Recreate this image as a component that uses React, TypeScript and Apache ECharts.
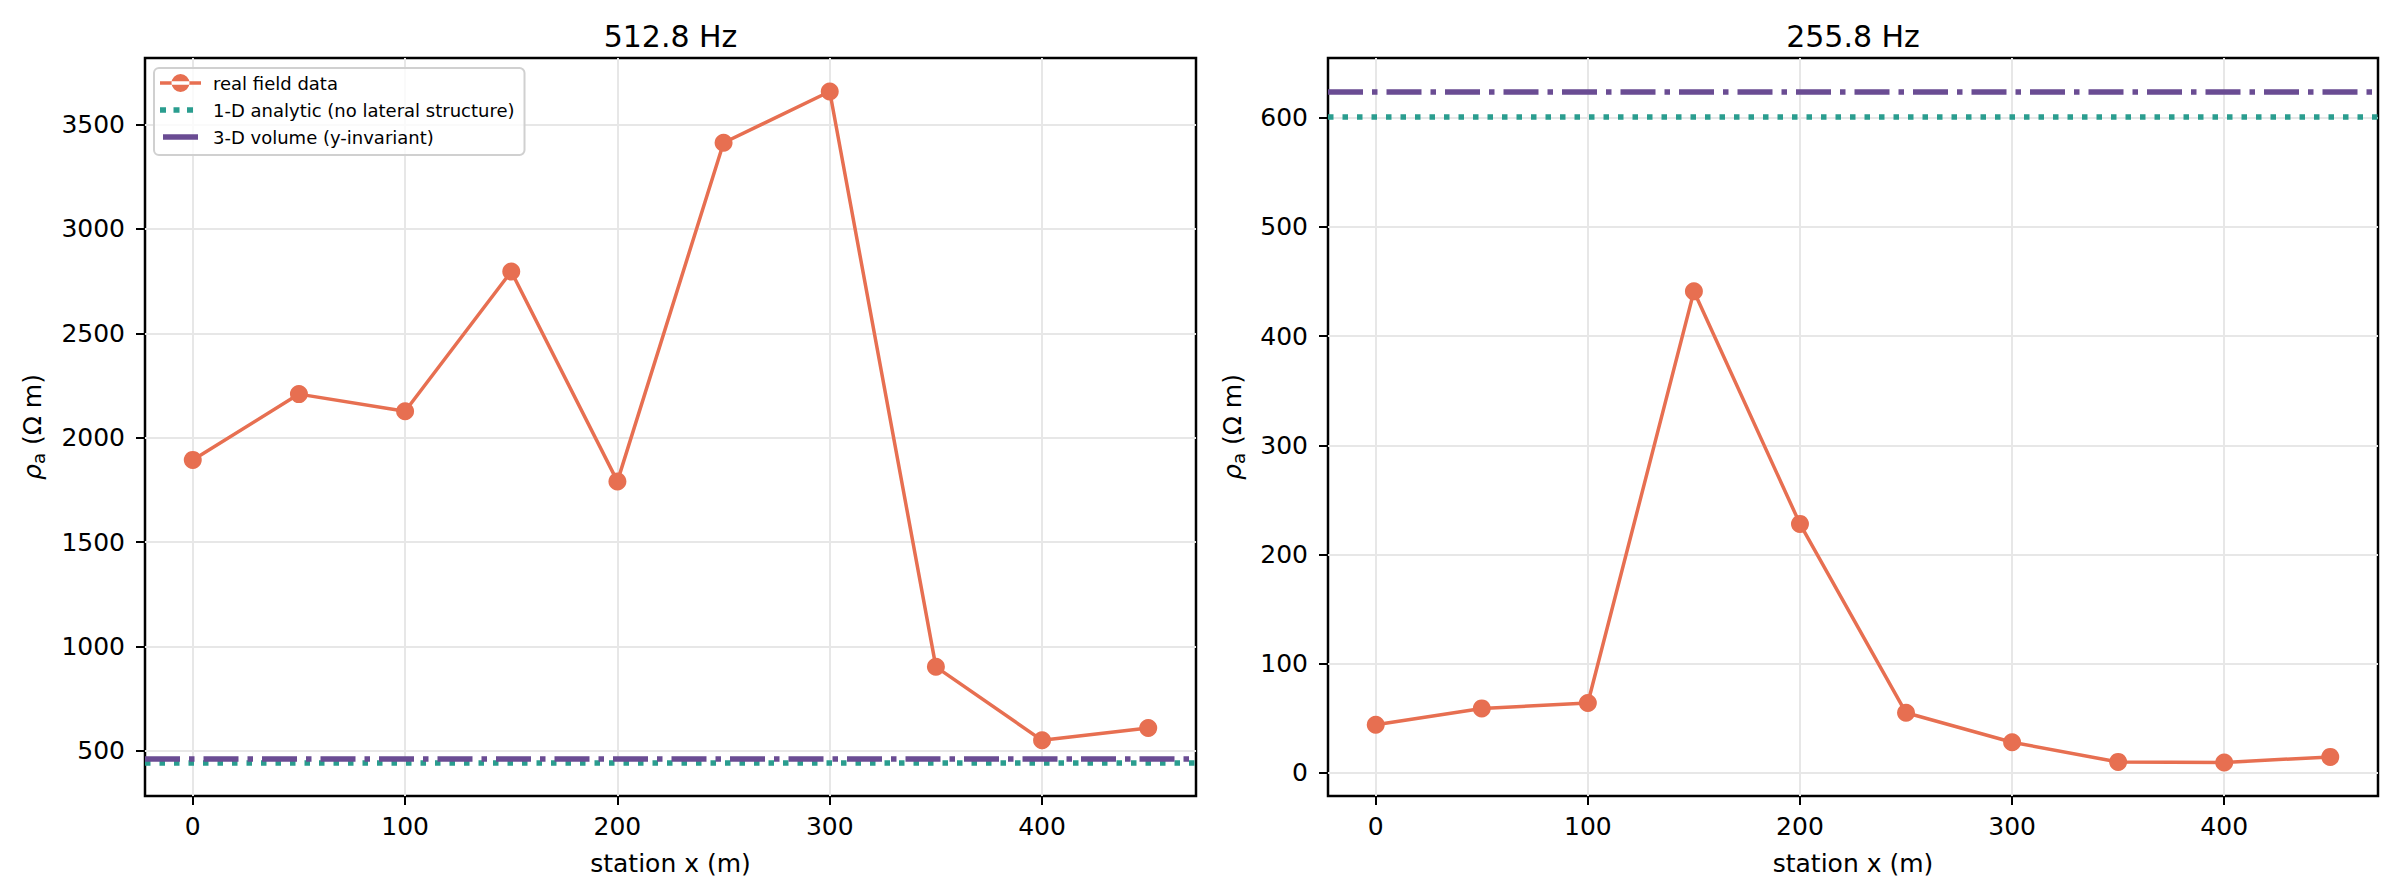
import React, { useEffect, useRef } from "react";
import * as echarts from "echarts";

const STATIONS = [0, 50, 100, 150, 200, 250, 300, 350, 400, 450];
const RHO_512 = [1894, 2209, 2127, 2796, 1791, 3413, 3658, 903, 551, 610];
const RHO_256 = [44, 59, 64, 441, 228, 55, 28, 10, 9.5, 14.6];
const ANALYTIC_1D = [445, 601];
const VOLUME_3D = [465, 624];
const TITLES = ["512.8 Hz", "255.8 Hz"];
const X_TICKS = [0, 100, 200, 300, 400];
const Y_TICKS_512 = [500, 1000, 1500, 2000, 2500, 3000, 3500];
const Y_TICKS_256 = [0, 100, 200, 300, 400, 500, 600];
const SERIES_NAMES = [
  "real field data",
  "1-D analytic (no lateral structure)",
  "3-D volume (y-invariant)",
];

const FONT = "DejaVu Sans";
const C_DATA = "#E76F51";
const C_1D = "#2A9D8F";
const C_3D = "#6A4C93";

const ICON_DATA = "path://M0 7.25H41V10.75H0Z M11.5 9A9 9 0 1 0 29.5 9A9 9 0 1 0 11.5 9Z";
const ICON_1D = "path://M0 0M41 18M0 6.25H6V11.75H0Z M13.5 6.25H19.5V11.75H13.5Z M27 6.25H33V11.75H27Z";
const ICON_3D = "path://M0 0M41 18M3 6.25H38V11.75H3Z";

function limits(vals: number[]) {
  const lo = Math.min(...vals);
  const hi = Math.max(...vals);
  const m = (hi - lo) * 0.05;
  return [lo - m, hi + m];
}

export default function App() {
  const ref = useRef<HTMLDivElement>(null);
  useEffect(() => {
    if (!ref.current) return;
    const chart = echarts.init(ref.current, undefined, { renderer: "svg" });
    const xr = limits(STATIONS);
    const panels = [
      { data: RHO_512, ticks: Y_TICKS_512, d1: ANALYTIC_1D[0], d3: VOLUME_3D[0], nameGap: 98 },
      { data: RHO_256, ticks: Y_TICKS_256, d1: ANALYTIC_1D[1], d3: VOLUME_3D[1], nameGap: 81 },
    ];
    const grids = [
      { left: 145, top: 58, width: 1051, height: 738 },
      { left: 1328, top: 58, width: 1050, height: 738 },
    ];
    const fmt = (v: number) => String(v);
    const xAxes: any[] = [];
    const yAxes: any[] = [];
    const series: any[] = [];
    panels.forEach((p, i) => {
      const yr = limits([...p.data, p.d1, p.d3]);
      xAxes.push({
        type: "value",
        gridIndex: i,
        min: xr[0],
        max: xr[1],
        axisLine: { show: false, onZero: false },
        axisTick: { show: true, length: 9, customValues: X_TICKS, lineStyle: { color: "#000", width: 2 } },
        axisLabel: { customValues: X_TICKS, formatter: fmt, fontSize: 25, color: "#000", fontFamily: FONT, margin: 18 },
        splitLine: { show: true, lineStyle: { color: "#e7e7e7", width: 2 } },
        name: "station x (m)",
        nameLocation: "middle",
        nameGap: 55,
        nameTextStyle: { fontSize: 25, color: "#000", fontFamily: FONT },
      });
      yAxes.push({
        type: "value",
        gridIndex: i,
        min: yr[0],
        max: yr[1],
        axisLine: { show: false, onZero: false },
        axisTick: { show: true, length: 9, customValues: p.ticks, lineStyle: { color: "#000", width: 2 } },
        axisLabel: { customValues: p.ticks, formatter: fmt, fontSize: 25, color: "#000", fontFamily: FONT, margin: 20 },
        splitLine: { show: true, lineStyle: { color: "#e7e7e7", width: 2 } },
        name: "{r|ρ}{s|a}{n| (Ω m)}",
        nameLocation: "middle",
        nameGap: p.nameGap,
        nameTextStyle: {
          fontSize: 25,
          color: "#000",
          fontFamily: FONT,
          rich: {
            r: { fontSize: 25, lineHeight: 30, fontStyle: "italic", fontFamily: FONT, color: "#000" },
            s: { fontSize: 18, lineHeight: 18, verticalAlign: "bottom", fontFamily: FONT, color: "#000" },
            n: { fontSize: 25, lineHeight: 30, fontFamily: FONT, color: "#000" },
          },
        },
      });
      series.push({
        name: SERIES_NAMES[0],
        type: "line",
        xAxisIndex: i,
        yAxisIndex: i,
        data: STATIONS.map((x, k) => [x, p.data[k]]),
        symbol: "circle",
        symbolSize: 18,
        lineStyle: { color: C_DATA, width: 3.5 },
        itemStyle: { color: C_DATA },
        z: 3,
      });
      series.push({
        name: SERIES_NAMES[1],
        type: "line",
        xAxisIndex: i,
        yAxisIndex: i,
        data: [],
        symbol: "none",
        lineStyle: { color: C_1D, width: 5.5, type: [5.5, 9], cap: "butt" },
        itemStyle: { color: C_1D },
        markLine: {
          silent: true,
          symbol: ["none", "none"],
          label: { show: false },
          lineStyle: { color: C_1D, width: 5.5, type: [5.5, 9], cap: "butt" },
          data: [{ yAxis: p.d1 }],
        },
        z: 4,
      });
      series.push({
        name: SERIES_NAMES[2],
        type: "line",
        xAxisIndex: i,
        yAxisIndex: i,
        data: [],
        symbol: "none",
        lineStyle: { color: C_3D, width: 5.5, type: [35, 9, 5.5, 9], cap: "butt" },
        itemStyle: { color: C_3D },
        markLine: {
          silent: true,
          symbol: ["none", "none"],
          label: { show: false },
          lineStyle: { color: C_3D, width: 5.5, type: [35, 9, 5.5, 9], cap: "butt" },
          data: [{ yAxis: p.d3 }],
        },
        z: 5,
      });
    });

    chart.setOption({
      animation: false,
      backgroundColor: "#fff",
      textStyle: { fontFamily: FONT },
      grid: grids.map((g) => ({ ...g, show: true, borderColor: "#000", borderWidth: 2.5, backgroundColor: "transparent" })),
      xAxis: xAxes,
      yAxis: yAxes,
      legend: {
        data: [
          { name: SERIES_NAMES[0], icon: ICON_DATA },
          { name: SERIES_NAMES[1], icon: ICON_1D },
          { name: SERIES_NAMES[2], icon: ICON_3D },
        ],
        left: 154,
        top: 68,
        orient: "vertical",
        itemWidth: 41,
        itemHeight: 18,
        itemGap: 9,
        padding: [6, 10, 9, 6],
        borderColor: "#d0d0d0",
        borderWidth: 2,
        borderRadius: 5,
        backgroundColor: "rgba(255,255,255,0.8)",
        textStyle: { fontSize: 18, color: "#000", fontFamily: FONT, padding: [0, 0, 0, 7] },
      },
      graphic: TITLES.map((t, i) => ({
        type: "text",
        x: grids[i].left + grids[i].width / 2,
        y: 36,
        style: { text: t, fontSize: 30, fontFamily: FONT, fill: "#000", textAlign: "center", textVerticalAlign: "middle" },
      })),
      series,
    });
    return () => chart.dispose();
  }, []);
  return <div ref={ref} style={{ position: "absolute", left: 0, top: 0, width: 2397, height: 896 }} />;
}
